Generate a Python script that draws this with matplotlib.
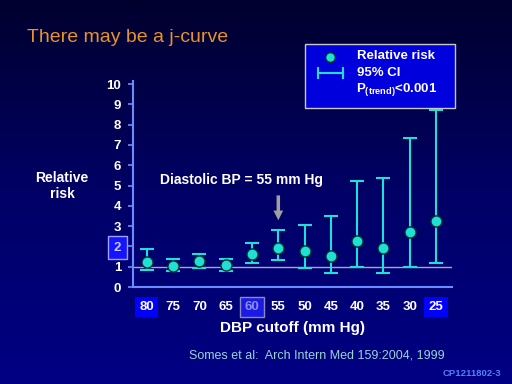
import numpy as np
import matplotlib
matplotlib.use("Agg")
import matplotlib.pyplot as plt
from matplotlib.patches import Rectangle
from matplotlib.lines import Line2D
from matplotlib.colors import LinearSegmentedColormap

plt.rcParams['font.family'] = ['Liberation Sans', 'DejaVu Sans']
plt.rcParams['mathtext.fontset'] = 'custom'
plt.rcParams['mathtext.bf'] = 'Liberation Sans:bold'
plt.rcParams['mathtext.rm'] = 'Liberation Sans:bold'

# data
cutoffs = ["80", "75", "70", "65", "60", "55", "50", "45", "40", "35", "30", "25"]
rel_risk = [1.23, 1.03, 1.28, 1.08, 1.63, 1.92, 1.77, 1.53, 2.27, 1.92, 2.71, 3.25]
ci_low = [0.84, 0.79, 0.95, 0.79, 1.18, 1.33, 0.94, 0.69, 0.99, 0.69, 0.99, 1.18]
ci_high = [1.87, 1.38, 1.63, 1.38, 2.17, 2.81, 3.05, 3.50, 5.22, 5.37, 7.34, 8.72]
yticks = list(range(0, 11))

cyan = "#1ee0d4"
axis_blue = "#6b8cff"

fig = plt.figure(figsize=(5.12, 3.84), dpi=100)

# dark navy gradient background
bg = fig.add_axes([0, 0, 1, 1], zorder=-10)
grad = np.linspace(0, 1, 256).reshape(-1, 1)
cmap = LinearSegmentedColormap.from_list("bg", ["#00002e", "#000066", "#000084"])
bg.imshow(grad, aspect="auto", cmap=cmap, extent=[0, 1, 0, 1])
bg.axis("off")

ax = fig.add_axes([133 / 512, 97 / 384, 319 / 512, 206 / 384])
ax.set_facecolor("none")
x = np.arange(len(cutoffs))
rr = np.array(rel_risk)
yerr = [rr - np.array(ci_low), np.array(ci_high) - rr]

ax.plot([-0.53, 11.61], [1, 1], color="#a8a8c0", lw=1, zorder=1)
ax.errorbar(x, rr, yerr=yerr, fmt="none", ecolor=cyan, elinewidth=1.5,
            capsize=5, capthick=1.5, zorder=2)
ax.plot(x, rr, "o", color=cyan, markersize=8, markeredgecolor="#003030",
        markeredgewidth=1, zorder=3)

ax.set_xlim(-0.53, 11.61)
ax.set_ylim(0, 10.15)
for s in ["top", "right"]:
    ax.spines[s].set_visible(False)
for s in ["left", "bottom"]:
    ax.spines[s].set_color(axis_blue)
    ax.spines[s].set_linewidth(1.5)

ax.set_yticks(yticks)
ax.set_yticklabels([str(v) for v in yticks], fontsize=9.5, fontweight="bold")
ax.tick_params(axis="y", colors=axis_blue, length=3.5, width=1.2, pad=5, labelcolor="white")
ax.set_xticks(x)
ax.set_xticklabels(cutoffs, fontsize=9.5, fontweight="bold")
ax.tick_params(axis="x", length=0, pad=10, labelcolor="white")

for lbl in ax.get_xticklabels():
    t = lbl.get_text()
    if t in ("80", "25"):
        lbl.set_bbox(dict(facecolor="#0000ff", edgecolor="none", pad=3))
    elif t == "60":
        lbl.set_bbox(dict(facecolor="#1a1ae6", edgecolor="#8a8ac0", pad=3, lw=1))
        lbl.set_color("#8c8cf0")
for lbl in ax.get_yticklabels():
    if lbl.get_text() == "2":
        lbl.set_bbox(dict(facecolor="#1414ff", edgecolor="#a0a0ff", pad=4, lw=1))
        lbl.set_color("#c8c8ff")

ax.set_xlabel("DBP cutoff (mm Hg)", color="white", fontsize=11, fontweight="bold", labelpad=6)

ax.annotate("", xy=(5, 3.15), xytext=(5, 4.65),
            arrowprops=dict(arrowstyle="simple,head_length=0.7,head_width=0.7,tail_width=0.25",
                            color="#a0a0a0", lw=0))
ax.text(3.6, 5.27, "Diastolic BP = 55 mm Hg", color="white", fontsize=10,
        fontweight="bold", ha="center", va="center")

fig.text(62 / 512, 1 - 186 / 384, "Relative\nrisk", color="white", fontsize=10,
         fontweight="bold", ha="center", va="center", linespacing=1.1)

fig.text(27 / 512, 1 - 37 / 384, "There may be a j-curve", color="#e8922e",
         fontsize=14, ha="left", va="center")

# legend box
fig.patches.append(Rectangle((305 / 512, 1 - 108 / 384), 150 / 512, 64 / 384,
                             transform=fig.transFigure, facecolor="#0000dc",
                             edgecolor="#c8c8c8", lw=1))
fig.lines.append(Line2D([330 / 512], [1 - 57 / 384], marker="o", color=cyan,
                        markersize=7, markeredgecolor="#003030", transform=fig.transFigure))
fig.lines.append(Line2D([318 / 512, 343 / 512], [1 - 73 / 384] * 2, color=cyan, lw=1.5,
                        transform=fig.transFigure))
for xx in (318, 343):
    fig.lines.append(Line2D([xx / 512] * 2, [1 - 68 / 384, 1 - 78 / 384], color=cyan, lw=1.5,
                            transform=fig.transFigure))
fig.text(357 / 512, 1 - 56 / 384, "Relative risk", color="white", fontsize=9.5,
         fontweight="bold", va="center")
fig.text(357 / 512, 1 - 73 / 384, "95% CI", color="white", fontsize=9.5,
         fontweight="bold", va="center")
fig.text(356 / 512, 1 - 90 / 384, r"$\mathbf{P}_{\mathbf{(trend)}}$<0.001",
         color="white", fontsize=9.5, fontweight="bold", va="center")

fig.text(189 / 512, 1 - 355 / 384, "Somes et al:  Arch Intern Med 159:2004, 1999",
         color="#9ad4d4", fontsize=9, va="center")
fig.text(501 / 512, 1 - 373 / 384, "CP1211802-3", color="#5a7cff", fontsize=6.8,
         fontweight="bold", ha="right", va="center")

fig.savefig("out.png", dpi=100)
